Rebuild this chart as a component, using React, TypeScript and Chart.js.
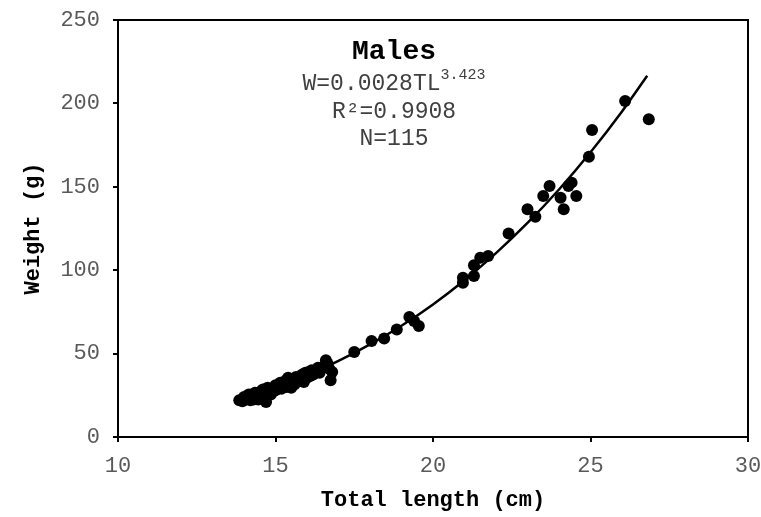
import React, { useEffect, useRef } from "react";
import { Chart, registerables } from "chart.js";

Chart.register(...registerables);

// Observed fish: total length (cm) and weight (g)
const totalLength = [
  13.85, 13.95, 14.0, 14.05, 14.15, 14.2, 14.25, 14.3, 14.35, 14.4, 14.45, 14.5, 14.55, 14.6, 14.65, 14.7,
  14.75, 14.8, 14.85, 14.9, 14.95, 15.0, 15.05, 15.1, 15.15, 15.2, 15.25, 15.3, 15.35, 15.4, 15.45, 15.5,
  15.55, 15.6, 15.65, 15.7, 15.8, 15.85, 15.9, 15.95, 16.0, 16.05, 16.1, 16.15, 16.2, 16.25, 16.35, 16.4,
  16.5, 16.6, 16.65, 16.7, 16.75, 16.8,
  17.5, 18.05, 18.45, 18.85, 19.25, 19.4, 19.55, 20.95, 20.95, 21.3, 21.3, 21.5, 21.75, 22.4, 23.0, 23.25,
  23.5, 23.7, 24.05, 24.15, 24.3, 24.4, 24.55, 24.95, 25.05, 26.1, 26.85,
];
const weight = [
  22.0, 21.5, 24.0, 22.5, 25.5, 22.0, 24.5, 22.5, 26.5, 24.0, 22.5, 27.0, 25.0, 28.5, 26.0, 21.0,
  29.5, 27.0, 25.5, 29.0, 27.5, 31.0, 28.5, 30.0, 32.5, 29.0, 31.5, 33.5, 30.0, 35.5, 32.0, 29.5,
  34.0, 31.5, 36.0, 33.5, 35.0, 37.5, 33.0, 38.5, 35.5, 39.0, 36.5, 40.0, 37.5, 39.0, 41.5, 38.5,
  42.0, 46.0, 44.0, 41.0, 34.0, 39.0,
  51.0, 57.5, 59.0, 64.5, 72.0, 69.5, 66.5, 95.5, 92.5, 96.5, 103.0, 107.5, 108.5, 122.0, 136.5, 132.0,
  144.5, 150.5, 143.5, 136.5, 150.5, 152.5, 144.5, 168.0, 184.0, 201.5, 190.5,
];

// Fitted power curve
const fitLength = [13.8, 14, 15, 16, 17, 18, 19, 20, 21, 22, 23, 24, 25, 26, 26.8];
const fitWeight = [22.4, 23.5, 29.7, 37.1, 45.6, 55.5, 66.7, 79.5, 94.0, 110.2, 128.3, 148.4, 170.7, 195.2, 216.6];

const xTicks = { min: 10, max: 30, step: 5 };
const yTicks = { min: 0, max: 250, step: 50 };

const xTitle = "Total length (cm)";
const yTitle = "Weight (g)";
const noteTitle = "Males";
const noteEqMain = "W=0.0028TL";
const noteEqSup = "3.423";
const noteR2 = "R²=0.9908";
const noteN = "N=115";

const FONT = "'Liberation Mono', 'Courier New', monospace";

const framePlugin = {
  id: "frame",
  afterDatasetsDraw(chart: any) {
    const { ctx, chartArea } = chart;
    ctx.save();
    ctx.strokeStyle = "#000";
    ctx.lineWidth = 2;
    ctx.strokeRect(chartArea.left, chartArea.top, chartArea.right - chartArea.left, chartArea.bottom - chartArea.top);

    const cx = chartArea.left + 276;
    const top = chartArea.top;
    ctx.textAlign = "center";
    ctx.textBaseline = "middle";
    ctx.fillStyle = "#000";
    ctx.font = `bold 28px ${FONT}`;
    ctx.fillText(noteTitle, cx, top + 32);

    ctx.fillStyle = "#404040";
    ctx.font = `23px ${FONT}`;
    const wMain = ctx.measureText(noteEqMain).width;
    ctx.font = `15px ${FONT}`;
    const wSup = ctx.measureText(noteEqSup).width;
    const start = cx - (wMain + wSup) / 2;
    ctx.textAlign = "left";
    ctx.textBaseline = "alphabetic";
    ctx.font = `23px ${FONT}`;
    ctx.fillText(noteEqMain, start, top + 70);
    ctx.font = `15px ${FONT}`;
    ctx.fillText(noteEqSup, start + wMain, top + 59);

    ctx.textAlign = "center";
    ctx.textBaseline = "middle";
    ctx.font = `23px ${FONT}`;
    ctx.fillText(noteR2, cx, top + 92);
    ctx.fillText(noteN, cx, top + 119);
    ctx.restore();
  },
};

export default function App() {
  const ref = useRef<HTMLCanvasElement | null>(null);

  useEffect(() => {
    if (!ref.current) return;
    const points = totalLength.map((x, i) => ({ x, y: weight[i] }));
    const fit = fitLength.map((x, i) => ({ x, y: fitWeight[i] }));
    const chart = new Chart(ref.current, {
      type: "scatter",
      data: {
        datasets: [
          {
            type: "line",
            data: fit,
            borderColor: "#000",
            borderWidth: 2.5,
            pointRadius: 0,
            fill: false,
            cubicInterpolationMode: "monotone",
            order: 1,
          } as any,
          {
            data: points,
            backgroundColor: "#000",
            borderColor: "#000",
            pointRadius: 6,
            borderWidth: 0,
            order: 0,
          },
        ],
      },
      options: {
        responsive: false,
        animation: false,
        devicePixelRatio: 1,
        layout: { padding: { left: 0, top: 20, right: 13, bottom: 0 } },
        plugins: { legend: { display: false }, tooltip: { enabled: false }, title: { display: false } },
        scales: {
          x: {
            type: "linear",
            min: xTicks.min,
            max: xTicks.max,
            ticks: { stepSize: xTicks.step, color: "#595959", font: { family: FONT, size: 22 }, padding: 11 },
            grid: { drawOnChartArea: false, drawTicks: true, tickLength: 5, color: "#000", lineWidth: 2 },
            border: { display: true, color: "#000", width: 2 },
            title: {
              display: true,
              text: xTitle,
              color: "#000",
              font: { family: FONT, size: 22, weight: "bold" },
              padding: { top: 0, bottom: 3 },
            },
            afterFit(scale: any) {
              scale.height = 80;
              scale.paddingRight = 0;
              scale.paddingLeft = 0;
            },
          },
          y: {
            type: "linear",
            min: yTicks.min,
            max: yTicks.max,
            ticks: { stepSize: yTicks.step, color: "#595959", font: { family: FONT, size: 22 }, padding: 13 },
            grid: { drawOnChartArea: false, drawTicks: true, tickLength: 5, color: "#000", lineWidth: 2 },
            border: { display: true, color: "#000", width: 2 },
            title: {
              display: true,
              text: yTitle,
              color: "#000",
              font: { family: FONT, size: 22, weight: "bold" },
              padding: { top: 20, bottom: 0 },
            },
            afterFit(scale: any) {
              scale.width = 118;
              scale.paddingTop = 0;
              scale.paddingBottom = 0;
            },
          },
        },
      } as any,
      plugins: [framePlugin],
    });
    return () => chart.destroy();
  }, []);

  return (
    <div style={{ position: "absolute", left: 0, top: 0, width: 761, height: 517, background: "#fff" }}>
      <canvas ref={ref} width={761} height={517} />
    </div>
  );
}
